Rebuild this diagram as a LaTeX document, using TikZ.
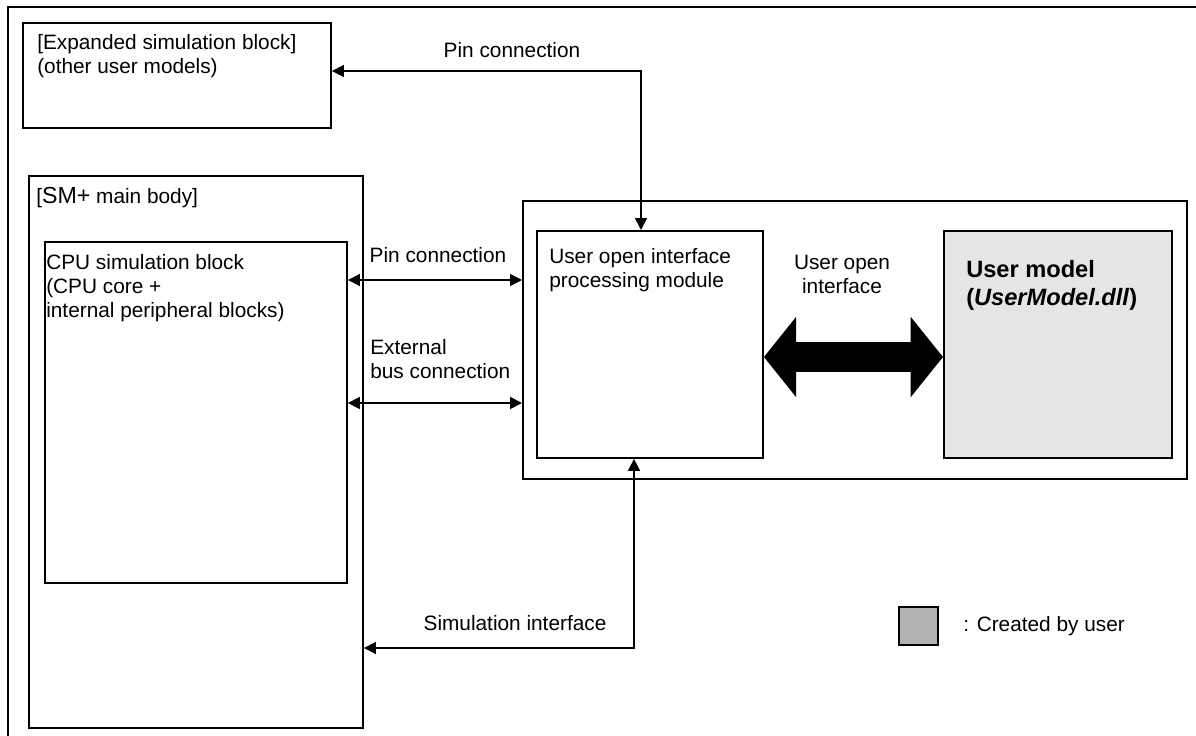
\documentclass[tikz,border=0pt]{standalone}
\usepackage{fontspec}
\setmainfont{Liberation Sans}
\usetikzlibrary{arrows.meta}

\begin{document}
\begin{tikzpicture}[x=0.025cm,y=-0.025cm,font=\fontsize{14.8}{17}\selectfont,
		blk/.style={draw,line width=1.3pt,anchor=north west,inner sep=0pt},
		txt/.style={anchor=base west,align=left,inner sep=0pt},
		conn/.style={line width=1.2pt,{Triangle[length=8.5pt,width=8.5pt]}-{Triangle[length=8.5pt,width=8.5pt]}},
		bigarrow/.style={line width=21pt,{Triangle[length=23pt,width=56pt]}-{Triangle[length=23pt,width=56pt]}}]
		\useasboundingbox (0,0) rectangle (1196,736);
		\draw[line width=1.3pt] (8,736) -- (8,7) -- (1196,7);
		
		\node[blk, minimum width=7.7cm, minimum height=2.625cm] (exp) at (22,22) {};
		\node[blk, minimum width=8.35cm, minimum height=13.8cm] (smp) at (28,175) {};
		\node[blk, minimum width=7.55cm, minimum height=8.525cm] (cpu) at (44,241) {};
		\node[blk, minimum width=16.6cm, minimum height=6.95cm] (ubox) at (522,200) {};
		\node[blk, minimum width=5.65cm, minimum height=5.675cm] (uoi) at (536,230) {};
		\node[blk, fill=black!10, minimum width=5.7cm, minimum height=5.675cm] (umodel) at (943,230) {};
		\node[blk, fill=black!30, minimum width=0.975cm, minimum height=0.95cm] (legend) at (898,606) {};
		
		% base of a multi-line node is its last line
		\node[txt] (exptext) at (37,73) {[Expanded simulation block]\\(other user models)};
		\node[txt] (smptext) at (36,203) {[{\fontsize{16.5}{17}\selectfont SM+} main body]};
		\node[txt] (cputext) at (46,317) {CPU simulation block\\(CPU core +\\internal peripheral blocks)};
		\node[txt] (uoitext) at (549,287) {User open interface\\processing module};
		\node[txt, font=\fontsize{16.8}{19.5}\selectfont\bfseries] (umodeltext) at (966,305) {User model\\(\textit{UserModel.dll})};
		\node[txt] (legendtext) at (963,631) {: Created by user};
		
		\node[anchor=base, inner sep=0pt] (pintoplabel) at (512,58) {Pin connection};
		\node[anchor=base, inner sep=0pt] (pinlabel) at (438,262) {Pin connection};
		\node[txt] (buslabel) at (370,378) {External\\bus connection};
		\node[anchor=base, inner sep=0pt, align=center] (uoilabel) at (842,293) {User open\\interface};
		\node[anchor=base, inner sep=0pt] (simlabel) at (515,630) {Simulation interface};
		
		\coordinate (topY) at (0,71);
		\coordinate (topX) at (641,0);
		\coordinate (pinY) at (0,280);
		\coordinate (busY) at (0,403);
		\coordinate (bigY) at (0,357);
		\coordinate (simY) at (0,648);
		\coordinate (simX) at (634,0);
		
		\draw[conn] (exp.east |- topY) -| (uoi.north -| topX);
		\draw[conn] (cpu.east |- pinY) -- (ubox.west |- pinY);
		\draw[conn] (cpu.east |- busY) -- (ubox.west |- busY);
		\draw[conn] (smp.east |- simY) -| (uoi.south -| simX);
		\draw[bigarrow] (uoi.east |- bigY) -- (umodel.west |- bigY);
	\end{tikzpicture}
\end{document}
